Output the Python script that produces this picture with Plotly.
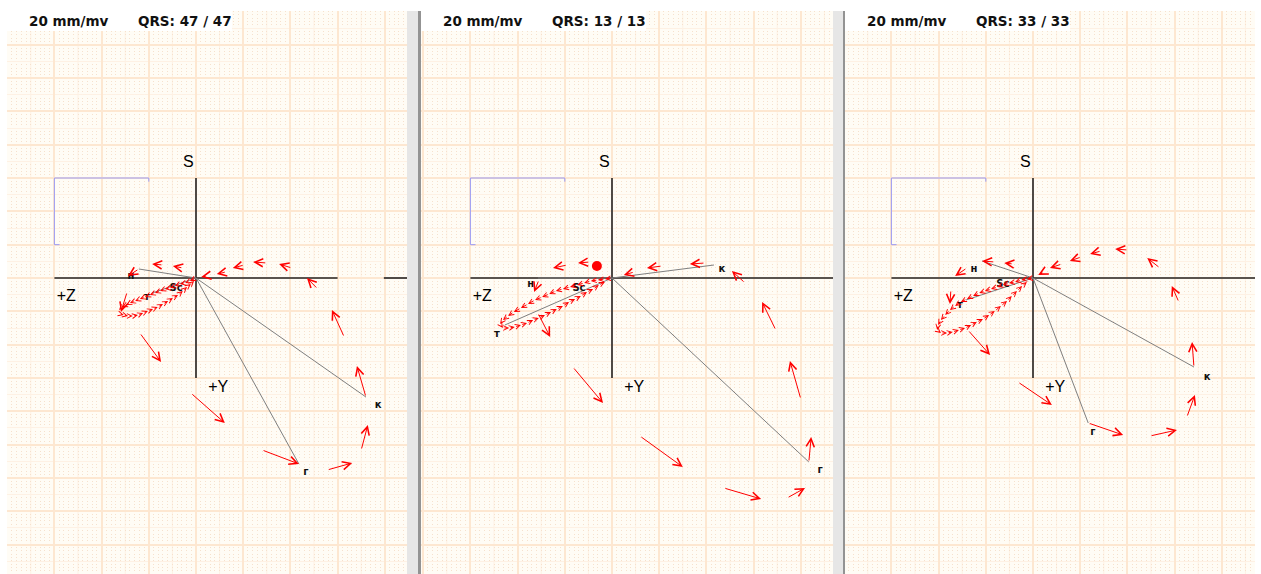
import numpy as np
import plotly.graph_objects as go

W, H = 1261, 574

# ---------------- header values ----------------
SENSITIVITY = "20 mm/mv"
QRS_SHOWN = [47, 13, 33]
QRS_TOTAL = [47, 13, 33]

# ---------------- page geometry (pixels) ----------------
PANEL_LEFT = [7, 421, 845]
PANEL_RIGHT = [407, 833, 1255]
ORIGIN_PX_X = [196, 612, 1033]
ORIGIN_PX_Y = 278
TOP_PX = 11
MM_PX_X = 4.72    # horizontal pixels per mm
MM_PX_Y = 3.333   # vertical pixels per mm

# ---------------- axes cross and calibration (mm) ----------------
AXIS_HALF = 30.0
# horizontal axis pieces per panel: (from Z, to Z); None = panel edge
H_AXIS = [[(30.0, -30.0), (-39.8, None)], [(30.0, None)], [(30.0, None)]]
CAL_Z = [28.9, 30.0, 30.0, 10.0, 10.0]
CAL_Y = [-10.0, -10.0, -30.0, -30.0, -28.9]
AXIS_LABELS = ["S", "+Z", "+Y"]
AXIS_LABEL_Z = [1.6, 27.5, -4.7]
AXIS_LABEL_Y = [-34.5, 5.7, 33.0]

# ---------------- QRS loop samples: (Z0, Y0, Z1, Y1) in mm ----------------
QRS_1 = [
    (2.8, -3.0, 4.9, -3.6), (7.0, -3.9, 9.3, -4.2), (12.1, -2.7, 14.4, -0.6),
    (14.6, 4.2, 15.9, 10.2), (11.9, 16.5, 7.4, 25.2), (1.1, 34.5, -6.1, 43.5),
    (-14.0, 51.6, -21.8, 55.8), (-27.8, 57.6, -33.1, 55.5), (-35.0, 51.6, -36.4, 44.1),
    (-36.0, 35.7, -34.1, 26.4), (-31.4, 17.7, -28.8, 9.6), (-25.8, 3.3, -23.5, 0.0),
    (-20.3, -3.0, -17.6, -4.2), (-15.0, -4.5, -12.1, -4.8), (-10.2, -3.9, -7.8, -3.0),
    (-6.4, -1.8, -4.4, -1.2), (-2.3, -0.6, -1.1, -0.3),
]
QRS_2 = [
    (4.7, -4.8, 7.2, -4.5), (9.5, -3.9, 12.5, -3.0), (15.5, 0.6, 16.5, 4.2),
    (15.7, 10.5, 13.1, 17.7), (8.3, 26.7, 1.9, 37.5), (-5.9, 47.4, -15.0, 56.7),
    (-23.7, 63.0, -31.6, 66.3), (-37.1, 66.0, -40.9, 63.0), (-41.7, 55.2, -42.2, 47.7),
    (-40.0, 36.3, -37.7, 24.9), (-34.7, 15.6, -31.8, 7.2), (-28.2, 1.5, -25.4, -2.1),
    (-19.7, -4.5, -16.5, -4.2), (-10.6, -3.6, -7.4, -3.0), (-4.7, -1.8, -2.5, -0.9),
]
QRS_3 = [
    (4.2, -4.2, 6.1, -4.5), (8.1, -4.8, 10.8, -5.1), (14.0, -3.0, 16.5, -0.6),
    (17.4, 3.6, 17.6, 7.8), (13.8, 15.6, 9.1, 23.1), (3.2, 31.2, -4.0, 38.1),
    (-11.7, 43.5, -19.1, 47.1), (-24.8, 47.4, -30.5, 45.6), (-32.6, 41.7, -34.3, 35.1),
    (-34.1, 26.7, -33.7, 19.2), (-30.9, 7.2, -29.4, 2.4), (-26.9, -3.0, -24.2, -6.0),
    (-20.1, -8.4, -17.4, -8.7), (-14.4, -8.1, -12.1, -7.2), (-10.2, -6.3, -7.8, -5.1),
    (-6.1, -4.2, -3.6, -3.0), (-2.3, -1.8, -1.1, -0.9),
]
QRS = [QRS_1, QRS_2, QRS_3]

# ---------------- T loops (mm) ----------------
T1_Z = [0.0, 1.3, 2.3, 3.4, 4.5, 5.5, 6.6, 7.6, 8.7, 9.8, 10.8, 11.9, 12.9, 14.0, 14.8, 15.7, 16.3, 16.5,
        16.1, 15.3, 14.4, 13.4, 12.3, 11.2, 10.2, 9.1, 8.1, 7.0, 5.9, 4.9, 3.8, 2.8, 1.9, 1.1, 0.4]
T1_Y = [0.0, 0.9, 1.5, 1.8, 2.4, 3.0, 3.3, 3.9, 4.5, 5.1, 5.7, 6.3, 6.9, 7.5, 8.1, 8.7, 9.6, 10.2,
        10.8, 11.1, 11.4, 11.4, 11.1, 10.5, 9.9, 9.3, 8.7, 7.8, 6.9, 6.0, 5.1, 3.9, 2.7, 1.8, 0.9]
T2_Z = [0.0, 1.5, 3.0, 4.5, 5.9, 7.4, 8.9, 10.4, 11.9, 13.3, 14.8, 16.3, 17.8, 19.3, 20.8, 22.0, 23.1, 23.7,
        23.1, 21.8, 20.6, 19.3, 18.0, 16.7, 15.5, 14.2, 12.9, 11.7, 10.4, 9.1, 7.8, 6.6, 5.3, 4.0, 2.8, 1.5]
T2_Y = [0.0, 0.3, 0.6, 0.9, 1.5, 2.1, 2.7, 3.3, 3.9, 4.8, 5.7, 6.6, 7.8, 9.0, 10.2, 11.4, 12.6, 13.8,
        15.0, 15.0, 14.7, 14.1, 13.5, 12.6, 12.0, 11.1, 10.2, 9.3, 8.4, 7.2, 6.3, 5.4, 4.2, 3.3, 2.1, 1.2]
T3_Z = [0.0, 1.3, 2.5, 3.8, 5.1, 6.4, 7.6, 8.9, 10.2, 11.4, 12.7, 14.0, 15.3, 16.5, 17.6, 18.6, 19.5, 20.1, 20.3,
        19.5, 18.2, 17.0, 15.7, 14.4, 13.1, 11.9, 10.6, 9.3, 8.1, 6.8, 5.5, 4.5, 3.4, 2.3, 1.3]
T3_Y = [0.0, 0.3, 0.6, 1.2, 1.5, 2.1, 2.7, 3.3, 3.9, 4.5, 5.4, 6.3, 7.2, 8.4, 9.6, 11.1, 12.6, 14.1, 15.6,
        16.5, 16.5, 16.2, 15.6, 15.0, 14.1, 13.2, 12.3, 11.1, 9.9, 8.4, 6.9, 5.4, 3.9, 2.4, 1.2]
T_Z = [T1_Z, T2_Z, T3_Z]
T_Y = [T1_Y, T2_Y, T3_Y]

# ---------------- marked vectors (н, т, к, г) ----------------
VEC_Z = [[12.1, 9.3, -36.0, -21.8], [15.7, 22.7, -21.6, -41.7], [10.8, 14.2, -34.1, -11.7]]
VEC_Y = [[-2.7, 4.5, 35.7, 55.8], [0.0, 14.1, -3.9, 55.2], [-5.1, 6.6, 26.7, 43.5]]

POINT_TEXT = ["н", "т", "к", "г", "Sc"]
POINT_Z = [[13.8, 10.4, -38.6, -23.3, 4.2], [17.2, 24.4, -23.3, -44.1, 7.0], [12.5, 15.5, -36.9, -12.7, 6.4]]
POINT_Y = [[-0.6, 5.7, 38.4, 58.5, 3.0], [1.8, 17.1, -2.7, 57.9, 3.0], [-2.7, 8.1, 30.0, 46.5, 1.8]]

CURSOR_Z, CURSOR_Y = [None, 3.2, None], [None, -3.6, None]

# ---------------- styles ----------------
BG = "#fffcf5"
HEAVY = "#fde7d1"
MEDIUM = "#fef1e4"
DOT = "#f6e1cd"
RED = "#ff0000"
AXIS_COLOR = "#222222"
VEC_COLOR = "#7f7f7f"
CAL_COLOR = "#9b9bf5"

fig = go.Figure()
annotations, shapes = [], []
layout = {}

for i in range(3):
    n = "" if i == 0 else str(i + 1)
    xa, ya = "x" + n, "y" + n
    z_left = (ORIGIN_PX_X[i] - PANEL_LEFT[i]) / MM_PX_X
    z_right = (ORIGIN_PX_X[i] - PANEL_RIGHT[i]) / MM_PX_X
    y_top = (TOP_PX - ORIGIN_PX_Y) / MM_PX_Y
    y_bottom = (H - ORIGIN_PX_Y) / MM_PX_Y

    layout["xaxis" + n] = dict(
        domain=[PANEL_LEFT[i] / W, PANEL_RIGHT[i] / W], range=[z_left, z_right], anchor=ya,
        tick0=0, dtick=10, showgrid=True, gridcolor=HEAVY, gridwidth=2,
        minor=dict(tick0=0, dtick=1, showgrid=True, gridcolor=DOT, gridwidth=1, griddash="1px,2.33px"),
        showticklabels=False, ticks="", zeroline=False, showline=False, fixedrange=True)
    layout["yaxis" + n] = dict(
        domain=[0, 1 - TOP_PX / H], range=[y_bottom, y_top], anchor=xa,
        tick0=0, dtick=10, showgrid=True, gridcolor=HEAVY, gridwidth=2,
        minor=dict(tick0=0, dtick=5, showgrid=True, gridcolor=MEDIUM, gridwidth=1),
        showticklabels=False, ticks="", zeroline=False, showline=False, fixedrange=True)

    # 5 mm vertical rulings between the 10 mm lines
    for z in np.arange(-95, 100, 10):
        if min(z_left, z_right) < z < max(z_left, z_right):
            shapes.append(dict(type="line", xref=xa, yref=ya + " domain", x0=z, x1=z, y0=0, y1=1,
                               line=dict(color=MEDIUM, width=1), layer="below"))

    # axis cross
    hz, hy = [], []
    for a, b in H_AXIS[i]:
        hz += [a, z_right if b is None else b, None]
        hy += [0, 0, None]
    hz += [0, 0]
    hy += [-AXIS_HALF, AXIS_HALF]
    fig.add_trace(go.Scatter(x=hz, y=hy, xaxis=xa, yaxis=ya, mode="lines",
                             line=dict(color=AXIS_COLOR, width=1.6), hoverinfo="skip"))

    # calibration bracket
    fig.add_trace(go.Scatter(x=CAL_Z, y=CAL_Y, xaxis=xa, yaxis=ya, mode="lines",
                             line=dict(color=CAL_COLOR, width=1), hoverinfo="skip"))

    # marked vectors from the origin
    vz, vy = [], []
    for z, y in zip(VEC_Z[i], VEC_Y[i]):
        vz += [0, z, None]
        vy += [0, y, None]
    fig.add_trace(go.Scatter(x=vz, y=vy, xaxis=xa, yaxis=ya, mode="lines",
                             line=dict(color=VEC_COLOR, width=1), hoverinfo="skip"))

    if CURSOR_Z[i] is not None:
        fig.add_trace(go.Scatter(x=[CURSOR_Z[i]], y=[CURSOR_Y[i]], xaxis=xa, yaxis=ya, mode="markers",
                                 marker=dict(color=RED, size=10), hoverinfo="skip"))

    # axis names
    fig.add_trace(go.Scatter(x=AXIS_LABEL_Z, y=AXIS_LABEL_Y, xaxis=xa, yaxis=ya, mode="text",
                             text=AXIS_LABELS, textposition="middle center",
                             textfont=dict(family="Liberation Sans, Arial", size=16, color="#000"),
                             hoverinfo="skip"))

    # point names
    fig.add_trace(go.Scatter(x=POINT_Z[i], y=POINT_Y[i], xaxis=xa, yaxis=ya, mode="text",
                             text=["<b>%s</b>" % t for t in POINT_TEXT], textposition="middle center",
                             textfont=dict(family="DejaVu Sans", size=10, color="#111"),
                             hoverinfo="skip"))

    # QRS loop samples as arrows
    for z0, y0, z1, y1 in QRS[i]:
        annotations.append(dict(xref=xa, yref=ya, axref=xa, ayref=ya, x=z1, y=y1, ax=z0, ay=y0,
                                text="", showarrow=True, arrowhead=5, arrowsize=1.6, arrowwidth=1,
                                arrowcolor=RED, standoff=0))
    # T loop as a chain of small arrows
    tz, ty = T_Z[i], T_Y[i]
    for k in range(len(tz) - 1):
        annotations.append(dict(xref=xa, yref=ya, axref=xa, ayref=ya, x=tz[k + 1], y=ty[k + 1],
                                ax=tz[k], ay=ty[k], text="", showarrow=True, arrowhead=5,
                                arrowsize=0.95, arrowwidth=1, arrowcolor=RED, standoff=0))

    # header strip
    shapes.append(dict(type="rect", xref="paper", yref="paper",
                       x0=PANEL_LEFT[i] / W, x1=(PANEL_LEFT[i] + 225) / W,
                       y0=1 - 31 / H, y1=1 - TOP_PX / H, fillcolor="white", line=dict(width=0),
                       layer="above"))
    annotations.append(dict(xref="paper", yref="paper", x=(PANEL_LEFT[i] + 20) / W, y=1 - 21.5 / H,
                            xanchor="left", yanchor="middle", showarrow=False,
                            text="<b>%s</b>" % SENSITIVITY,
                            font=dict(family="DejaVu Sans", size=13.5, color="#111")))
    annotations.append(dict(xref="paper", yref="paper", x=(PANEL_LEFT[i] + 129) / W, y=1 - 21.5 / H,
                            xanchor="left", yanchor="middle", showarrow=False,
                            text="<b>QRS: %d / %d</b>" % (QRS_SHOWN[i], QRS_TOTAL[i]),
                            font=dict(family="DejaVu Sans", size=13.5, color="#111")))

# panel separators
for x0, x1, c in [(407, 418, "#e6e6e6"), (418, 421, "#939393"),
                  (833, 843, "#e6e6e6"), (843, 845, "#939393")]:
    shapes.append(dict(type="rect", xref="paper", yref="paper", x0=x0 / W, x1=x1 / W,
                       y0=0, y1=1 - TOP_PX / H, fillcolor=c, line=dict(width=0), layer="above"))

fig.update_layout(**layout)
fig.update_layout(width=W, height=H, margin=dict(l=0, r=0, t=0, b=0), autosize=False,
                  paper_bgcolor="white", plot_bgcolor=BG, showlegend=False,
                  annotations=annotations, shapes=shapes)

fig.write_html("out.html", config={"displayModeBar": False})
